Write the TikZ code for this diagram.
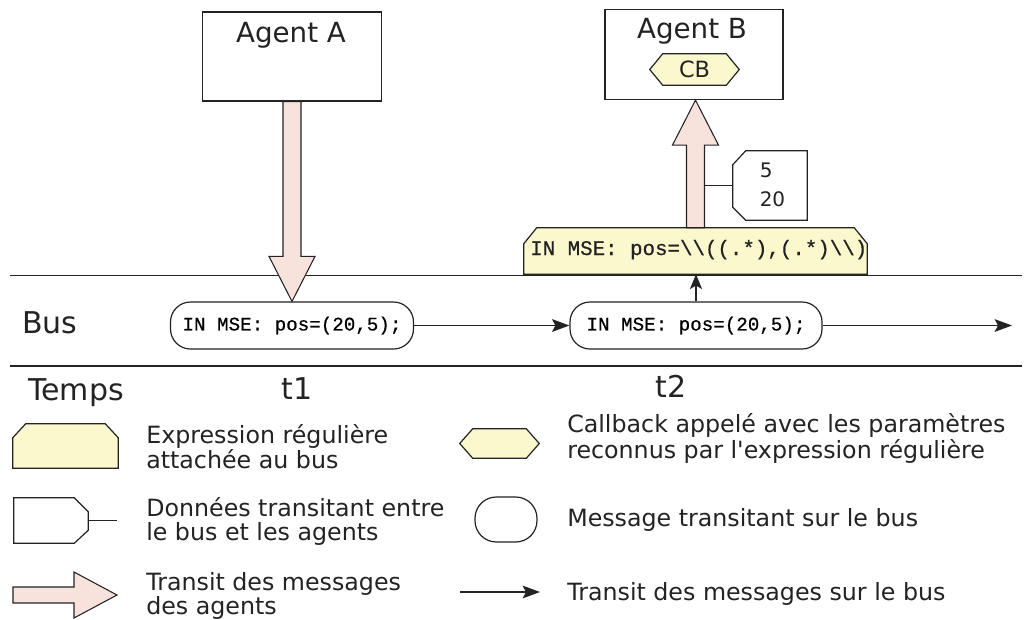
\documentclass[tikz,border=0pt]{standalone}
\usepackage{fontspec}
\setmainfont{DejaVu Sans}
\setmonofont{Liberation Mono}[FakeBold=0.6]
\usetikzlibrary{arrows.meta,calc,backgrounds}
\definecolor{pinkfill}{RGB}{248,226,220}
\definecolor{yelfill}{RGB}{250,248,204}
\definecolor{ln}{RGB}{35,35,35}
\newcommand\pxl{0.75pt}
\begin{document}
\begin{tikzpicture}[x=0.75pt,y=-0.75pt,
  box/.style={draw=ln, line width=0.9pt, inner sep=0pt},
  agentbox/.style={box, minimum width=179*\pxl, minimum height=89*\pxl},
  msgpill/.style={box, rounded corners=15pt, fill=white, font=\ttfamily\fontsize{14.4}{16}\selectfont, minimum height=47*\pxl},
  shapeonly/.style={inner sep=0pt},
  shapeline/.style={draw=ln, line width=0.9pt, line join=miter},
  bigarrow/.style={draw=ln, line width=0.8pt, fill=pinkfill, line join=miter},
  busline/.style={draw=ln, line width=1.4pt},
  busarrow/.style={draw=ln, line width=1.1pt, -{Stealth[length=13pt,width=9.5pt,inset=2.5pt]}},
  uparrow/.style={draw=ln, line width=1.1pt, -{Stealth[length=11pt,width=9pt,inset=2.5pt]}},
  thinln/.style={draw=ln, line width=0.8pt},
  lbl/.style={font=\fontsize{22.5}{24}\selectfont, text=ln, inner sep=0pt, anchor=base west},
  agentlbl/.style={font=\fontsize{20.8}{24}\selectfont, text=ln, inner sep=0pt, anchor=base},
  legtxt/.style={font=\fontsize{17.8}{16.5}\selectfont, text=ln, inner sep=0pt, anchor=base west},
]
\useasboundingbox (0,0) rectangle (1025,619);

% ---- agents
\node[agentbox] (agentA) at (292,56.5) {};
\node[agentlbl] (agentAtxt) at (291,42) {Agent A};
\node[agentbox, minimum width=178*\pxl, minimum height=90*\pxl] (agentB) at (694,54.5) {};
\node[agentlbl] (agentBtxt) at (692,38) {Agent B};
\node[shapeonly, minimum width=89*\pxl, minimum height=31*\pxl, font=\fontsize{16.8}{18}\selectfont, text=ln] (cb) at (694.5,69.5) {CB};

% ---- bus messages
\node[msgpill, minimum width=243*\pxl] (msg1) at (292,325.5) {IN MSE: pos=(20,5);};
\node[msgpill, minimum width=252*\pxl] (msg2) at (696,325.5) {IN MSE: pos=(20,5);};
\coordinate (busEnd) at (1012,325.5);

% ---- regex
\node[shapeonly, minimum width=343*\pxl, minimum height=46*\pxl] (regex) at (695.5,251) {};
\node[inner sep=0pt, anchor=base west, font=\ttfamily\fontsize{15.6}{17}\selectfont, text=ln] (regextxt) at (530,255)
  {IN MSE: pos=\textbackslash\textbackslash((.*),(.*)\textbackslash\textbackslash)};

% ---- data box
\node[shapeonly, minimum width=74*\pxl, minimum height=69*\pxl] (data) at (770,185.5) {};
\node[inner sep=0pt, anchor=base west, font=\fontsize{15}{21.75}\selectfont, text=ln] (datatxt) at (759.5,177.7)
  {\begin{tabular}[t]{@{}l@{}}5\\20\end{tabular}};

% ---- labels
\node[lbl] (busLbl) at (22,333) {Bus};
\node[lbl] (tempsLbl) at (28,400) {Temps};
\node[lbl, anchor=base] (t1) at (297,399) {t1};
\node[lbl, anchor=base] (t2) at (671,397) {t2};

% ---- legend nodes
\node[shapeonly, minimum width=105*\pxl, minimum height=44*\pxl] (legRegex) at (65.5,446) {};
\node[shapeonly, minimum width=74*\pxl, minimum height=45*\pxl] (legData) at (51,520.5) {};
\coordinate (legDataEnd) at (117,520.5);
\coordinate (legArrowStart) at (13,595);
\coordinate (legArrowTip) at (117,595);
\node[shapeonly, minimum width=79*\pxl, minimum height=29*\pxl] (legHex) at (499.5,443.5) {};
\node[box, rounded corners=16pt, minimum width=62*\pxl, minimum height=45*\pxl] (legPill) at (506,519.5) {};
\coordinate (legBusA) at (460,592);
\coordinate (legBusB) at (540,592);

\node[legtxt] (legT1) at (146,443.3) {\begin{tabular}[t]{@{}l@{}}Expression régulière\\attachée au bus\end{tabular}};
\node[legtxt] (legT2) at (146,516) {\begin{tabular}[t]{@{}l@{}}Données transitant entre\\le bus et les agents\end{tabular}};
\node[legtxt] (legT3) at (146,590) {\begin{tabular}[t]{@{}l@{}}Transit des messages\\des agents\end{tabular}};
\node[legtxt] (legT4) at (567,432.5) {\begin{tabular}[t]{@{}l@{}}Callback appelé avec les paramètres\\reconnus par l\textquotesingle expression régulière\end{tabular}};
\node[legtxt] (legT5) at (567,526.5) {Message transitant sur le bus};
\node[legtxt] (legT6) at (567,600) {Transit des messages sur le bus};

% ---- background shapes
\begin{scope}[on background layer]
  \fill[white] (0,0) rectangle (1025,619);
  \coordinate (l1a) at (10,275.5); \coordinate (l1b) at (1022,275.5);
  \coordinate (l2a) at (10,366);   \coordinate (l2b) at (1022,366);
  \draw[busline] (l1a) -- (l1b);
  \draw[busline] (l2a) -- (l2b);
  % regex shape
  \draw[shapeline, fill=yelfill] (regex.south west) -- ($(regex.north west)+(0,16)$) -- ($(regex.north west)+(13,0)$)
     -- ($(regex.north east)+(-13,0)$) -- ($(regex.north east)+(0,16)$) -- (regex.south east) -- cycle;
  % CB hexagon
  \draw[shapeline, fill=yelfill] (cb.west) -- ($(cb.north west)+(13,0)$) -- ($(cb.north east)+(-13,0)$) -- (cb.east)
     -- ($(cb.south east)+(-13,0)$) -- ($(cb.south west)+(13,0)$) -- cycle;
  % data box
  \draw[shapeline, fill=white] (data.north east) -- ($(data.north west)+(13,0)$) -- ($(data.north west)+(0,14)$)
     -- ($(data.south west)+(0,-13)$) -- ($(data.south west)+(13,0)$) -- (data.south east) -- cycle;
  % legend regex
  \draw[shapeline, fill=yelfill] (legRegex.south west) -- ($(legRegex.north west)+(0,14)$) -- ($(legRegex.north west)+(13,0)$)
     -- ($(legRegex.north east)+(-13,0)$) -- ($(legRegex.north east)+(0,14)$) -- (legRegex.south east) -- cycle;
  % legend data
  \draw[shapeline, fill=white] (legData.north west) -- ($(legData.north east)+(-14,0)$) -- ($(legData.north east)+(0,14)$)
     -- ($(legData.south east)+(0,-13)$) -- ($(legData.south east)+(-14,0)$) -- (legData.south west) -- cycle;
  % legend hexagon
  \draw[shapeline, fill=yelfill] (legHex.west) -- ($(legHex.north west)+(13,0)$) -- ($(legHex.north east)+(-13,0)$) -- (legHex.east)
     -- ($(legHex.south east)+(-13,0)$) -- ($(legHex.south west)+(13,0)$) -- cycle;
\end{scope}

% ---- big arrows
\path[bigarrow] ($(agentA.south -| msg1.north)+(-9,0)$) -- ($(msg1.north)+(-9,-45)$) -- ($(msg1.north)+(-23,-45)$)
   -- (msg1.north) -- ($(msg1.north)+(23,-45)$) -- ($(msg1.north)+(9,-45)$) -- ($(agentA.south -| msg1.north)+(9,0)$) -- cycle;
\coordinate (bTip) at (regex.north |- agentB.south);
\path[bigarrow] ($(regex.north)+(-9,0)$) -- ($(bTip)+(-9,45)$) -- ($(bTip)+(-23,45)$) -- (bTip)
   -- ($(bTip)+(23,45)$) -- ($(bTip)+(9,45)$) -- ($(regex.north)+(9,0)$) -- cycle;
\coordinate (bShaftR) at ($(regex.north)+(9,0)$);
\draw[thinln] (data.west) -- (bShaftR |- data.west);

% ---- bus arrows
\draw[busarrow] (msg1.east) -- (msg2.west);
\draw[busarrow] (msg2.east) -- (busEnd);
\draw[uparrow] (msg2.north) -- (msg2.north |- regex.south);

% ---- legend connectors
\draw[thinln] (legData.east) -- (legDataEnd);
\path[bigarrow] ($(legArrowStart)+(0,-8)$) -- ($(legArrowTip)+(-43,-8)$) -- ($(legArrowTip)+(-43,-23)$) -- (legArrowTip)
   -- ($(legArrowTip)+(-43,23)$) -- ($(legArrowTip)+(-43,8)$) -- ($(legArrowStart)+(0,8)$) -- cycle;
\draw[busarrow] (legBusA) -- (legBusB);
\end{tikzpicture}
\end{document}
